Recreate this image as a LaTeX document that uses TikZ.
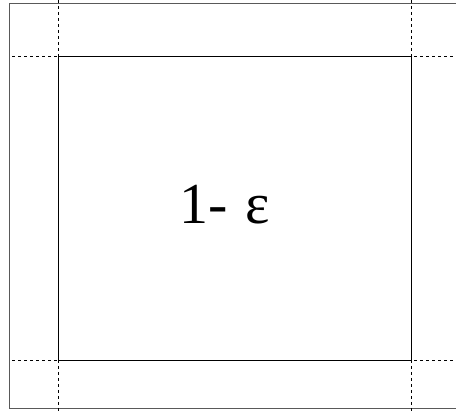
\documentclass[tikz,border=0pt]{standalone}
\usepackage{fontspec}
\setmainfont{Liberation Serif}
\begin{document}
\begin{tikzpicture}[x=1pt,y=-1pt,line width=0.7pt]
\useasboundingbox (0,0) rectangle (456,411);
\draw[gray!70!black,line width=1pt] (456,4) -- (9,4) -- (9,409) -- (456,409);
\draw[dashed,dash pattern=on 3pt off 3pt] (12,56) -- (456,56);
\draw[dashed,dash pattern=on 3pt off 3pt] (12,360) -- (456,360);
\draw[dashed,dash pattern=on 3pt off 3pt] (58.5,0) -- (58.5,411);
\draw[dashed,dash pattern=on 3pt off 3pt] (411.7,0) -- (411.7,411);
\draw (58.5,56) rectangle (411.7,360);
\node[font=\fontsize{58}{60}\selectfont] (eps) at (225,205) {1-\hspace{0.3em}ε};
\end{tikzpicture}
\end{document}
